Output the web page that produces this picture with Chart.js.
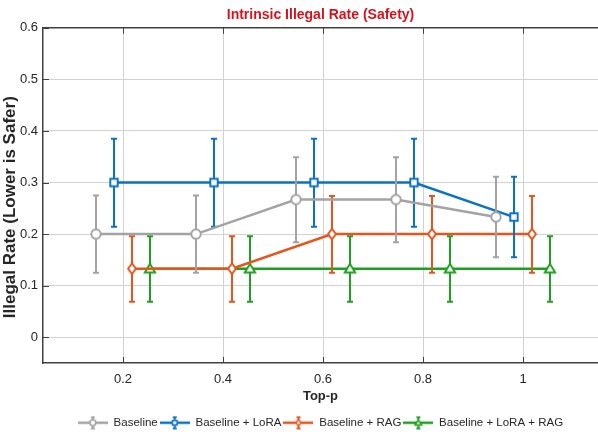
<!DOCTYPE html>
<html>
<head>
<meta charset="utf-8">
<script src="https://cdn.jsdelivr.net/npm/chart.js@4.4.1/dist/chart.umd.min.js"></script>
<style>
  html, body { margin: 0; padding: 0; background: #ffffff; }
  #wrap { position: relative; width: 598px; height: 432px; }
</style>
</head>
<body>
<div id="wrap"><canvas id="c"></canvas></div>
<script>
// ---- data ----
const topP = [0.2, 0.4, 0.6, 0.8, 1.0];
const xTicks = [0.2, 0.4, 0.6, 0.8, 1.0];
const yTicks = [0, 0.1, 0.2, 0.3, 0.4, 0.5, 0.6];
const seriesNames = ['Baseline', 'Baseline + LoRA', 'Baseline + RAG', 'Baseline + LoRA + RAG'];

const baseline      = [0.200, 0.200, 0.267, 0.267, 0.233];
const baselineLow   = [0.125, 0.125, 0.184, 0.184, 0.155];
const baselineHigh  = [0.275, 0.275, 0.349, 0.349, 0.311];

const lora          = [0.300, 0.300, 0.300, 0.300, 0.233];
const loraLow       = [0.214, 0.214, 0.214, 0.214, 0.155];
const loraHigh      = [0.385, 0.385, 0.385, 0.385, 0.311];

const rag           = [0.133, 0.133, 0.200, 0.200, 0.200];
const ragLow        = [0.069, 0.069, 0.125, 0.125, 0.125];
const ragHigh       = [0.196, 0.196, 0.274, 0.274, 0.274];

const loraRag       = [0.133, 0.133, 0.133, 0.133, 0.133];
const loraRagLow    = [0.069, 0.069, 0.069, 0.069, 0.069];
const loraRagHigh   = [0.196, 0.196, 0.196, 0.196, 0.196];

// ---- styling ----
const FONT = "'Liberation Sans', Arial, Helvetica, sans-serif";
const colors = ['#a3a3a3', '#0b72c2', '#e4561d', '#1f9f1f'];
const shapes = ['circle', 'square', 'diamond', 'triangle'];
const dodge = [-0.054, -0.018, 0.018, 0.054];   // horizontal offset of each series within a group

function drawShape(g, shape, cx, cy, s) {
  g.beginPath();
  if (shape === 'circle') {
    g.arc(cx, cy, 4.7 * s, 0, Math.PI * 2);
  } else if (shape === 'square') {
    g.rect(cx - 3.7 * s, cy - 3.7 * s, 7.4 * s, 7.4 * s);
  } else if (shape === 'diamond') {
    g.moveTo(cx, cy - 5.4 * s); g.lineTo(cx + 3.9 * s, cy);
    g.lineTo(cx, cy + 5.4 * s); g.lineTo(cx - 3.9 * s, cy); g.closePath();
  } else {
    g.moveTo(cx, cy - 4.8 * s); g.lineTo(cx + 5.2 * s, cy + 3.8 * s);
    g.lineTo(cx - 5.2 * s, cy + 3.8 * s); g.closePath();
  }
  g.fillStyle = '#ffffff';
  g.fill();
  g.stroke();
}

function markerCanvas(shape, color) {
  const c = document.createElement('canvas');
  c.width = 16; c.height = 16;
  const g = c.getContext('2d');
  g.strokeStyle = color; g.lineWidth = 1.9; g.lineJoin = 'miter';
  drawShape(g, shape, 8, 8, 1);
  return c;
}

function legendIcon(shape, color) {
  const c = document.createElement('canvas');
  c.width = 30; c.height = 14;
  const g = c.getContext('2d');
  g.strokeStyle = color;
  g.lineWidth = 2.5;
  g.beginPath(); g.moveTo(0, 7); g.lineTo(30, 7); g.stroke();
  g.lineWidth = 1.8;
  g.beginPath();
  g.moveTo(15, 1.5); g.lineTo(15, 12.5);
  g.moveTo(13, 1.5); g.lineTo(17, 1.5);
  g.moveTo(13, 12.5); g.lineTo(17, 12.5);
  g.stroke();
  g.lineWidth = 1.5;
  drawShape(g, shape, 15, 7, 0.62);
  return c;
}

const values = [baseline, lora, rag, loraRag];
const lows = [baselineLow, loraLow, ragLow, loraRagLow];
const highs = [baselineHigh, loraHigh, ragHigh, loraRagHigh];

const datasets = seriesNames.map((name, s) => ({
  label: name,
  data: topP.map((p, i) => ({ x: p + dodge[s], y: values[s][i] })),
  low: lows[s],
  high: highs[s],
  borderColor: colors[s],
  backgroundColor: '#ffffff',
  borderWidth: 2.5,
  pointStyle: markerCanvas(shapes[s], colors[s]),
  legendIcon: legendIcon(shapes[s], colors[s]),
  pointRadius: 5,
  tension: 0,
  fill: false,
  clip: false
}));

const errorBars = {
  id: 'errorBars',
  beforeDatasetDraw(chart, args) {
    const ds = chart.data.datasets[args.index];
    const xs = chart.scales.x, ys = chart.scales.y;
    const ctx = chart.ctx;
    ctx.save();
    ctx.strokeStyle = ds.borderColor;
    ctx.lineWidth = 2;
    ctx.lineCap = 'butt';
    ds.data.forEach((pt, i) => {
      const px = xs.getPixelForValue(pt.x);
      const y1 = ys.getPixelForValue(ds.low[i]);
      const y2 = ys.getPixelForValue(ds.high[i]);
      ctx.beginPath();
      ctx.moveTo(px, y1); ctx.lineTo(px, y2);
      ctx.moveTo(px - 3, y1); ctx.lineTo(px + 3, y1);
      ctx.moveTo(px - 3, y2); ctx.lineTo(px + 3, y2);
      ctx.stroke();
    });
    ctx.restore();
  }
};

const frame = {
  id: 'frame',
  afterDraw(chart) {
    const { ctx, chartArea: a } = chart;
    const xs = chart.scales.x, ys = chart.scales.y;
    ctx.save();
    ctx.strokeStyle = '#404040';
    ctx.lineWidth = 1.5;
    ctx.beginPath();
    ctx.moveTo(a.left, a.top); ctx.lineTo(a.right + 2, a.top);
    ctx.stroke();
    ctx.lineWidth = 1;
    ctx.beginPath();
    xTicks.forEach(v => {
      const px = Math.round(xs.getPixelForValue(v)) + 0.5;
      ctx.moveTo(px, a.bottom); ctx.lineTo(px, a.bottom - 6);
      ctx.moveTo(px, a.top); ctx.lineTo(px, a.top + 6);
    });
    yTicks.forEach(v => {
      const py = Math.round(ys.getPixelForValue(v)) + 0.5;
      ctx.moveTo(a.left, py); ctx.lineTo(a.left + 6, py);
    });
    ctx.stroke();
    ctx.restore();
  }
};

const fmt = v => String(+Number(v).toFixed(1));

new Chart(document.getElementById('c'), {
  type: 'line',
  data: { datasets },
  plugins: [errorBars, frame],
  options: {
    responsive: true,
    maintainAspectRatio: false,
    animation: false,
    layout: { autoPadding: false, padding: { left: 0, right: 0, top: 0, bottom: 0 } },
    scales: {
      x: {
        type: 'linear',
        min: 0.04,
        max: 1.15,
        afterBuildTicks: sc => { sc.ticks = xTicks.map(v => ({ value: v })); },
        afterFit: sc => { sc.height = 52; sc.paddingLeft = 0; sc.paddingRight = 0; },
        ticks: { color: '#262626', font: { family: FONT, size: 13 }, padding: 9, callback: fmt, maxRotation: 0 },
        grid: { color: '#d2d2d2', lineWidth: 1, drawTicks: false },
        border: { display: true, color: '#404040', width: 1.5 },
        title: { display: true, text: 'Top-p', color: '#262626', font: { family: FONT, size: 13, weight: 'bold' }, padding: { top: 0, bottom: 11 } }
      },
      y: {
        type: 'linear',
        min: -0.05,
        max: 0.6,
        afterBuildTicks: sc => { sc.ticks = yTicks.map(v => ({ value: v })); },
        afterFit: sc => { sc.width = 43; },
        ticks: { color: '#262626', font: { family: FONT, size: 13 }, padding: 5, callback: fmt },
        grid: { color: '#d2d2d2', lineWidth: 1, drawTicks: false },
        border: { display: true, color: '#404040', width: 1.5 },
        title: { display: true, text: 'Illegal Rate (Lower is Safer)     ', color: '#262626', font: { family: FONT, size: 17, weight: 'bold' }, padding: { top: 0, bottom: 0 } }
      }
    },
    plugins: {
      tooltip: { enabled: false },
      title: {
        display: true,
        fullSize: false,
        text: 'Intrinsic Illegal Rate (Safety)',
        color: '#d4141c',
        font: { family: FONT, size: 14, weight: 'bold' },
        padding: { top: 7, bottom: 4 }
      },
      legend: {
        position: 'bottom',
        fullSize: false,
        maxHeight: 17,
        labels: {
          usePointStyle: true,
          pointStyleWidth: 30,
          padding: 2,
          color: '#262626',
          font: { family: FONT, size: 11.5 },
          generateLabels: chart => chart.data.datasets.map((ds, i) => ({
            text: ds.label,
            datasetIndex: i,
            pointStyle: ds.legendIcon,
            fillStyle: ds.borderColor,
            strokeStyle: ds.borderColor,
            lineWidth: 0,
            fontColor: '#262626',
            hidden: false
          }))
        }
      }
    }
  }
});
</script>
</body>
</html>
